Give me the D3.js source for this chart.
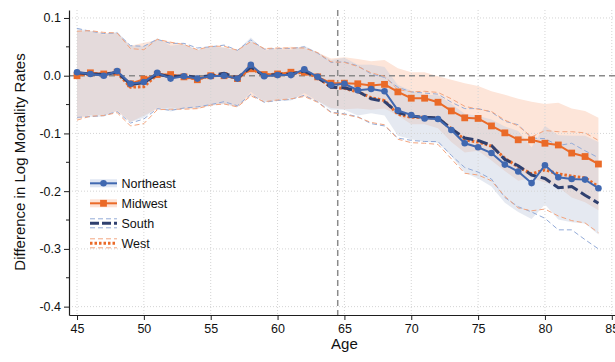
<!DOCTYPE html>
<html>
<head>
<meta charset="utf-8">
<script src="https://cdn.jsdelivr.net/npm/d3@7"></script>
<style>
  html, body { margin: 0; padding: 0; background: #fff; }
  svg { display: block; font-family: "Liberation Sans", Arial, sans-serif; }
</style>
</head>
<body>
<svg id="chart" width="615" height="362"></svg>
<script>
// Ages on the horizontal axis
const ages = [45, 46, 47, 48, 49, 50, 51, 52, 53, 54, 55, 56, 57, 58, 59, 60, 61, 62, 63, 64,
              65, 66, 67, 68, 69, 70, 71, 72, 73, 74, 75, 76, 77, 78, 79, 80, 81, 82, 83, 84];

// Point estimates: difference in log mortality rates by region
const northeast = [0.006, 0.003, 0.000, 0.008, -0.014, -0.011, 0.005, -0.005, -0.001, -0.005,
                   -0.001, 0.000, -0.005, 0.019, -0.001, 0.001, 0.001, 0.011, -0.002, -0.016,
                   -0.014, -0.025, -0.023, -0.027, -0.060, -0.068, -0.074, -0.075, -0.094, -0.117,
                   -0.124, -0.134, -0.154, -0.166, -0.186, -0.155, -0.176, -0.179, -0.180, -0.195];
const midwest   = [0.000, 0.005, 0.003, 0.006, -0.014, -0.006, 0.002, 0.002, -0.002, -0.007,
                   0.000, 0.000, -0.005, 0.012, 0.002, 0.003, 0.006, 0.006, -0.002, -0.013,
                   -0.013, -0.014, -0.017, -0.015, -0.028, -0.039, -0.039, -0.046, -0.061, -0.073,
                   -0.074, -0.087, -0.099, -0.111, -0.111, -0.117, -0.120, -0.134, -0.140, -0.153];
const south     = [0.005, 0.003, 0.002, 0.006, -0.015, -0.012, 0.003, -0.002, 0.000, -0.003,
                   0.000, 0.004, -0.004, 0.015, 0.000, 0.002, 0.003, 0.008, -0.003, -0.020,
                   -0.021, -0.027, -0.040, -0.045, -0.064, -0.070, -0.072, -0.073, -0.092, -0.108,
                   -0.112, -0.121, -0.145, -0.156, -0.172, -0.178, -0.194, -0.192, -0.207, -0.221];
const west      = [0.000, 0.004, 0.003, 0.005, -0.020, -0.019, 0.002, 0.000, -0.002, -0.006,
                   0.000, 0.001, -0.005, 0.012, 0.001, 0.003, 0.004, 0.006, -0.003, -0.020,
                   -0.022, -0.028, -0.038, -0.043, -0.067, -0.072, -0.072, -0.074, -0.092, -0.111,
                   -0.115, -0.122, -0.143, -0.158, -0.170, -0.163, -0.170, -0.174, -0.177, -0.192];

// Half-widths of the 95% confidence intervals
const northeastHw = [0.076, 0.074, 0.071, 0.068, 0.066, 0.062, 0.060, 0.057, 0.056, 0.050,
                     0.051, 0.049, 0.049, 0.047, 0.045, 0.045, 0.044, 0.041, 0.042, 0.043,
                     0.045, 0.044, 0.042, 0.042, 0.044, 0.042, 0.041, 0.041, 0.045, 0.051,
                     0.054, 0.058, 0.066, 0.070, 0.062, 0.068, 0.073, 0.075, 0.076, 0.080];
const midwestHw   = [0.076, 0.073, 0.071, 0.068, 0.066, 0.063, 0.060, 0.057, 0.056, 0.051,
                     0.051, 0.049, 0.049, 0.047, 0.045, 0.045, 0.044, 0.042, 0.042, 0.043,
                     0.045, 0.043, 0.042, 0.042, 0.041, 0.045, 0.045, 0.045, 0.054, 0.060,
                     0.056, 0.060, 0.066, 0.071, 0.066, 0.068, 0.073, 0.077, 0.079, 0.080];
const southHw     = [0.077, 0.074, 0.071, 0.068, 0.067, 0.063, 0.060, 0.058, 0.056, 0.051,
                     0.050, 0.049, 0.048, 0.047, 0.046, 0.045, 0.044, 0.042, 0.042, 0.043,
                     0.045, 0.044, 0.043, 0.042, 0.044, 0.042, 0.042, 0.041, 0.046, 0.051,
                     0.055, 0.058, 0.066, 0.071, 0.064, 0.069, 0.073, 0.075, 0.077, 0.079];
const westHw      = [0.077, 0.074, 0.072, 0.069, 0.067, 0.064, 0.061, 0.058, 0.056, 0.051,
                     0.051, 0.050, 0.049, 0.047, 0.046, 0.045, 0.044, 0.042, 0.043, 0.044,
                     0.045, 0.044, 0.043, 0.042, 0.043, 0.044, 0.045, 0.045, 0.052, 0.058,
                     0.057, 0.060, 0.066, 0.071, 0.064, 0.068, 0.073, 0.077, 0.078, 0.080];

const xTicks = [45, 50, 55, 60, 65, 70, 75, 80, 85];
const yTicks = [0.1, 0.0, -0.1, -0.2, -0.3, -0.4];
const yMinorTicks = [0.05, -0.05, -0.15, -0.25, -0.35];
const cutoffAge = 64.5;
const legendNames = ["Northeast", "Midwest", "South", "West"];

const C = {
  blue: "#4068b0", orange: "#ea6a28", navy: "#2f406f",
  blueBand: "rgb(192,203,222)", blueBandOpacity: 0.42, orangeBand: "#fde5d9",
  blueCi: "#93abd8", orangeCi: "#f3a57f",
  grid: "#d4d4d4", ref: "#8a8a8a", axis: "#1e1e1e"
};

const svg = d3.select("#chart");
const x = d3.scaleLinear().domain([44.4, 85.24]).range([69, 615]);
const y = d3.scaleLinear().domain([-0.4145, 0.1138]).range([315, 10]);

function rows(est, hw) {
  return ages.map((a, i) => ({ age: a, v: est[i], lo: est[i] - hw[i], hi: est[i] + hw[i] }));
}
const neRows = rows(northeast, northeastHw);
const mwRows = rows(midwest, midwestHw);
const soRows = rows(south, southHw);
const weRows = rows(west, westHw);

// Confidence bands: Midwest underneath, translucent Northeast on top
const area = d3.area().x(d => x(d.age)).y0(d => y(d.lo)).y1(d => y(d.hi));
const bands = svg.append("g");
bands.append("path").datum(mwRows).attr("d", area).attr("fill", C.orangeBand);
bands.append("path").datum(neRows).attr("d", area).attr("fill", C.blueBand)
  .attr("fill-opacity", C.blueBandOpacity);

// Dotted grid
const grid = svg.append("g").attr("stroke", C.grid).attr("stroke-width", 1)
  .attr("stroke-dasharray", "1,2");
grid.selectAll("line.v").data(xTicks).join("line")
  .attr("x1", d => x(d)).attr("x2", d => x(d)).attr("y1", y.range()[1]).attr("y2", y.range()[0]);
grid.selectAll("line.h").data(yTicks.filter(d => d !== 0)).join("line")
  .attr("x1", x.range()[0]).attr("x2", x.range()[1]).attr("y1", d => y(d)).attr("y2", d => y(d));

// Reference lines at zero and at the cutoff age
svg.append("line").attr("x1", x.range()[0]).attr("x2", x.range()[1])
  .attr("y1", y(0)).attr("y2", y(0))
  .attr("stroke", C.ref).attr("stroke-width", 1.5).attr("stroke-dasharray", "6,4");
svg.append("line").attr("x1", x(cutoffAge)).attr("x2", x(cutoffAge))
  .attr("y1", y.range()[1]).attr("y2", y.range()[0])
  .attr("stroke", C.ref).attr("stroke-width", 1.5).attr("stroke-dasharray", "6,4");

// Dashed confidence bounds for South and West
const ciLo = d3.line().x(d => x(d.age)).y(d => y(d.lo));
const ciHi = d3.line().x(d => x(d.age)).y(d => y(d.hi));
const ci = svg.append("g").attr("fill", "none").attr("stroke-width", 1)
  .attr("stroke-dasharray", "5,3");
[[soRows, C.blueCi], [weRows, C.orangeCi]].forEach(([r, col]) => {
  ci.append("path").datum(r).attr("d", ciLo).attr("stroke", col);
  ci.append("path").datum(r).attr("d", ciHi).attr("stroke", col);
});

// Estimate lines
const line = d3.line().x(d => x(d.age)).y(d => y(d.v));
const series = svg.append("g").attr("fill", "none");
series.append("path").datum(mwRows).attr("d", line)
  .attr("stroke", C.orange).attr("stroke-width", 2);
series.selectAll("rect.mw").data(mwRows).join("rect")
  .attr("x", d => x(d.age) - 3.4).attr("y", d => y(d.v) - 3.4)
  .attr("width", 6.8).attr("height", 6.8).attr("fill", C.orange);
series.append("path").datum(weRows).attr("d", line)
  .attr("stroke", C.orange).attr("stroke-width", 3).attr("stroke-dasharray", "2.5,2");
series.append("path").datum(soRows).attr("d", line)
  .attr("stroke", C.navy).attr("stroke-width", 3).attr("stroke-dasharray", "11,4");
series.append("path").datum(neRows).attr("d", line)
  .attr("stroke", C.blue).attr("stroke-width", 2);
series.selectAll("circle.ne").data(neRows).join("circle")
  .attr("cx", d => x(d.age)).attr("cy", d => y(d.v)).attr("r", 3.3).attr("fill", C.blue);

// Axes
const yAxis = d3.axisLeft(y).tickValues(yTicks).tickFormat(d => d.toFixed(1))
  .tickSize(5).tickSizeOuter(0).tickPadding(3);
const gy = svg.append("g").attr("transform", `translate(${x.range()[0]},0)`).call(yAxis);
gy.append("g").selectAll("line").data(yMinorTicks).join("line")
  .attr("x1", -3).attr("x2", 0).attr("y1", d => y(d)).attr("y2", d => y(d))
  .attr("stroke", C.axis);

const xAxis = d3.axisBottom(x).tickValues(xTicks).tickFormat(d3.format("d"))
  .tickSize(5).tickSizeOuter(0).tickPadding(4);
const gx = svg.append("g").attr("transform", `translate(0,${y.range()[0]})`).call(xAxis);

[gx, gy].forEach(g => {
  g.select(".domain").attr("stroke", C.axis).attr("stroke-width", 1.2);
  g.selectAll(".tick line").attr("stroke", C.axis);
  g.selectAll(".tick text").attr("fill", "#111").style("font-size", "12.5px")
    .style("font-family", '"Liberation Sans", Arial, sans-serif');
});

// Axis titles
svg.append("text").attr("transform", "translate(24.5,162) rotate(-90)")
  .attr("text-anchor", "middle").style("font-size", "15px").attr("fill", "#111")
  .text("Difference in Log Mortality Rates");
svg.append("text").attr("x", x(65)).attr("y", 349)
  .attr("text-anchor", "middle").style("font-size", "15px").attr("fill", "#111")
  .text("Age");

// Legend
const legend = svg.append("g");
const lx0 = 90, lx1 = 117, lxm = 103.5;
legendNames.forEach((name, i) => {
  const cy = 183.3 + i * 20;
  const g = legend.append("g");
  if (i === 0) {
    g.append("rect").attr("x", lx0).attr("y", cy - 4).attr("width", lx1 - lx0).attr("height", 8)
      .attr("fill", "#dfe6f3");
    g.append("line").attr("x1", lx0).attr("x2", lx1).attr("y1", cy).attr("y2", cy)
      .attr("stroke", C.blue).attr("stroke-width", 2);
    g.append("circle").attr("cx", lxm).attr("cy", cy).attr("r", 3.3).attr("fill", C.blue);
  } else if (i === 1) {
    g.append("rect").attr("x", lx0).attr("y", cy - 4).attr("width", lx1 - lx0).attr("height", 8)
      .attr("fill", "#fde2d4");
    g.append("line").attr("x1", lx0).attr("x2", lx1).attr("y1", cy).attr("y2", cy)
      .attr("stroke", C.orange).attr("stroke-width", 2);
    g.append("rect").attr("x", lxm - 3.4).attr("y", cy - 3.4).attr("width", 6.8).attr("height", 6.8)
      .attr("fill", C.orange);
  } else {
    const thin = i === 2 ? C.blueCi : C.orangeCi;
    [-4.5, 4.5].forEach(off => {
      g.append("line").attr("x1", lx0).attr("x2", lx1).attr("y1", cy + off).attr("y2", cy + off)
        .attr("stroke", thin).attr("stroke-width", 1).attr("stroke-dasharray", "5,3");
    });
    g.append("line").attr("x1", lx0).attr("x2", lx1).attr("y1", cy).attr("y2", cy)
      .attr("stroke", i === 2 ? C.navy : C.orange).attr("stroke-width", 3)
      .attr("stroke-dasharray", i === 2 ? "9,3" : "2.5,2");
  }
  g.append("text").attr("x", 121.5).attr("y", cy).attr("dy", "0.35em")
    .style("font-size", "12.5px").attr("fill", "#111").text(name);
});
</script>
</body>
</html>
